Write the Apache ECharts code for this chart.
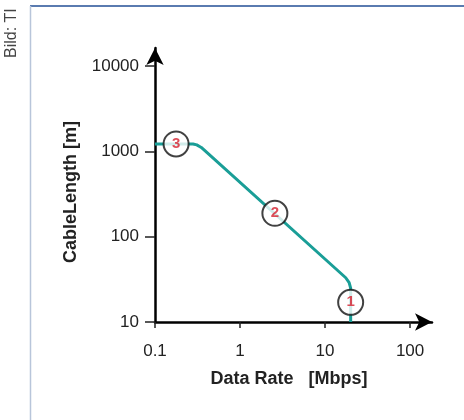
<!DOCTYPE html>
<html><head><meta charset="utf-8">
<script src="https://cdn.jsdelivr.net/npm/echarts@6/dist/echarts.min.js"></script>
<style>html,body{margin:0;padding:0;background:#fff}#c{width:464px;height:420px}</style>
</head><body><div id="c"></div>
<script>
const xTicks = [0.1, 1, 10, 100];
const yTicks = [10, 100, 1000, 10000];
const curveRate = [0.1, 0.28, 0.31, 0.35, 17.5, 19.2, 20, 20];
const curveLength = [1220, 1220, 1190, 1110, 33, 29, 25, 10];
const markerRate = [0.177, 2.57, 20];
const markerLength = [1220, 188, 17];
const markerLabels = ['3', '2', '1'];

const chart = echarts.init(document.getElementById('c'));
const F = 'Liberation Sans, Arial, sans-serif';
chart.setOption({
  animation: false,
  backgroundColor: '#fff',
  grid: { left: 155, top: 48, width: 277, height: 274 },
  xAxis: {
    type: 'log', logBase: 10, min: 0.1, max: 181,
    name: 'Data Rate   [Mbps]', nameLocation: 'middle', nameGap: 48,
    nameTextStyle: { fontFamily: F, fontSize: 18, fontWeight: 'bold', color: '#222', padding: [0, 9, 0, 0] },
    axisLine: { show: true, lineStyle: { color: '#000', width: 2.5 }, symbol: ['none', 'arrow'], symbolSize: [13, 17] },
    axisTick: { show: true, length: 6, lineStyle: { color: '#222', width: 1.5 }, customValues: xTicks },
    axisLabel: { fontFamily: F, fontSize: 17, color: '#222', margin: 21, customValues: xTicks,
      formatter: v => String(v) },
    splitLine: { show: false }, minorTick: { show: false }
  },
  yAxis: {
    type: 'log', logBase: 10, min: 10, max: 16250,
    name: 'CableLength [m]', nameLocation: 'middle', nameGap: 75,
    nameTextStyle: { fontFamily: F, fontSize: 18, fontWeight: 'bold', color: '#222', padding: [0, 14, 0, 0] },
    axisLine: { show: true, lineStyle: { color: '#000', width: 2.5 }, symbol: ['none', 'arrow'], symbolSize: [13, 17] },
    axisTick: { show: true, length: 10, lineStyle: { color: '#222', width: 1.5 }, customValues: yTicks },
    axisLabel: { fontFamily: F, fontSize: 17, color: '#222', margin: 16, customValues: yTicks,
      formatter: v => String(v) },
    splitLine: { show: false }
  },
  series: [
    {
      type: 'line', data: curveRate.map((x, i) => [x, curveLength[i]]),
      showSymbol: false, symbol: 'none', lineStyle: { color: '#1a9e97', width: 3 }, z: 2
    },
    {
      type: 'scatter', data: markerRate.map((x, i) => ({ value: [x, markerLength[i]], name: markerLabels[i] })),
      symbol: 'circle', symbolSize: 25,
      itemStyle: { color: '#fff', borderColor: '#111', borderWidth: 2 },
      label: { show: true, position: 'inside', formatter: p => p.name, color: '#d4202e',
        fontFamily: F, fontWeight: 'bold', fontSize: 15 },
      z: 3
    }
  ],
  graphic: [
    { type: 'line', shape: { x1: 30, y1: 6, x2: 464, y2: 6 }, style: { stroke: '#5a7bb0', lineWidth: 2 } },
    { type: 'line', shape: { x1: 30.5, y1: 6, x2: 30.5, y2: 420 }, style: { stroke: '#b8c5da', lineWidth: 1.5 } },
    { type: 'text', x: 4, y: 58, rotation: Math.PI / 2,
      style: { text: 'Bild: TI', font: '16px ' + F, fill: '#444', textAlign: 'left', textVerticalAlign: 'top' } }
  ]
});
</script></body></html>
